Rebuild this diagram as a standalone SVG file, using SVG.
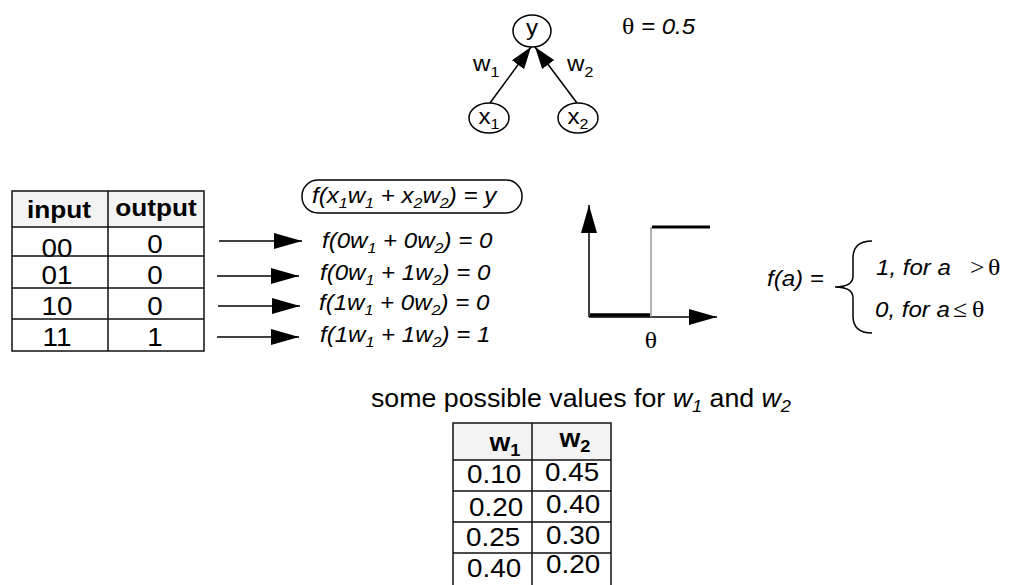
<svg xmlns="http://www.w3.org/2000/svg" width="1013" height="585" viewBox="0 0 1013 585">
<style>
.t{font-family:"Liberation Sans",Arial,sans-serif;fill:#000}
.i{font-style:italic}
.b{font-weight:bold}
.s{font-family:"Liberation Serif","Times New Roman",serif;font-style:normal}
.node{fill:#fff;stroke:#000;stroke-width:1.5}
.grid{fill:none;stroke:#111;stroke-width:1.5}
.hdr{fill:#f3f3f3;stroke:none}
.con{stroke:#000;stroke-width:1.5;fill:none}
.f22{font-size:22.5px}
.f24{font-size:24.5px}
.f26{font-size:26px}
.th{font-size:24px}
</style>
<defs>
<marker id="ah" viewBox="0 0 28 16" refX="28" refY="8" markerWidth="28" markerHeight="16" markerUnits="userSpaceOnUse" orient="auto"><path d="M0,0 L28,8 L0,16 z" fill="#000"/></marker>
<marker id="ah2" viewBox="0 0 22 15" refX="22" refY="7.5" markerWidth="22" markerHeight="15" markerUnits="userSpaceOnUse" orient="auto"><path d="M0,0 L22,7.5 L0,15 z" fill="#000"/></marker>
</defs>
<rect width="1013" height="585" fill="#fff"/>

<g id="connectors">
<line class="con" x1="490" y1="103" x2="531" y2="47" marker-end="url(#ah2)"/>
<line class="con" x1="577" y1="103" x2="535" y2="47" marker-end="url(#ah2)"/>
<line class="con" x1="219" y1="241" x2="302" y2="241" marker-end="url(#ah)"/>
<line class="con" x1="217" y1="276" x2="299" y2="276" marker-end="url(#ah)"/>
<line class="con" x1="218" y1="306" x2="300" y2="306" marker-end="url(#ah)"/>
<line class="con" x1="217" y1="337" x2="299" y2="337" marker-end="url(#ah)"/>
</g>

<g id="node-y">
<ellipse class="node" cx="532" cy="31" rx="19" ry="16"/>
<text class="t f22" text-anchor="middle" transform="translate(532,35) scale(1.07,1)">y</text>
</g>
<g id="node-x1">
<ellipse class="node" cx="489" cy="118" rx="20" ry="15"/>
<text class="t f22" text-anchor="middle" transform="translate(489,124) scale(1.07,1)">x<tspan font-size="15" dy="5">1</tspan></text>
</g>
<g id="node-x2">
<ellipse class="node" cx="578" cy="118" rx="20" ry="15"/>
<text class="t f22" text-anchor="middle" transform="translate(578,124) scale(1.07,1)">x<tspan font-size="15" dy="5">2</tspan></text>
</g>
<g id="weight-labels">
<text class="t f22" transform="translate(473,71) scale(1.07,1)">w<tspan font-size="15" dy="6">1</tspan></text>
<text class="t f22" transform="translate(567,71) scale(1.07,1)">w<tspan font-size="15" dy="6">2</tspan></text>
</g>
<g id="theta-value">
<text class="t f22" transform="translate(622,34) scale(1.07,1)"><tspan class="s th">θ</tspan><tspan class="i"> = 0.5</tspan></text>
</g>

<g id="truth-table">
<rect class="hdr" x="12" y="191" width="192" height="36"/>
<text class="t b f24" text-anchor="middle" transform="translate(59,218) scale(1.07,1)">input</text>
<text class="t b f24" text-anchor="middle" transform="translate(156,216) scale(1.07,1)">output</text>
<text class="t f26" text-anchor="middle" transform="translate(57,257) scale(1.07,1)">00</text>
<text class="t f26" text-anchor="middle" transform="translate(155,253) scale(1.07,1)">0</text>
<text class="t f26" text-anchor="middle" transform="translate(57,284) scale(1.07,1)">01</text>
<text class="t f26" text-anchor="middle" transform="translate(155,284) scale(1.07,1)">0</text>
<text class="t f26" text-anchor="middle" transform="translate(57,315) scale(1.07,1)">10</text>
<text class="t f26" text-anchor="middle" transform="translate(155,315) scale(1.07,1)">0</text>
<text class="t f26" text-anchor="middle" transform="translate(57,346) scale(1.07,1)">11</text>
<text class="t f26" text-anchor="middle" transform="translate(155,346) scale(1.07,1)">1</text>
<rect class="grid" x="12" y="191" width="192" height="160"/>
<path class="grid" d="M12 227H204M12 256H204M12 288H204M12 319H204M108 191V351"/>
</g>

<g id="formula-general">
<rect class="node" x="302" y="180" width="220" height="33" rx="16" ry="16"/>
<text class="t i f22" transform="translate(312,203) scale(1.07,1)">f(x<tspan font-size="15" dy="5">1</tspan><tspan dy="-5">w</tspan><tspan font-size="15" dy="5">1</tspan><tspan dy="-5"> + x</tspan><tspan font-size="15" dy="5">2</tspan><tspan dy="-5">w</tspan><tspan font-size="15" dy="5">2</tspan><tspan dy="-5">) = y</tspan></text>
</g>
<g id="formulas">
<text class="t i f22" transform="translate(322,248) scale(1.07,1)">f(0w<tspan font-size="15" dy="5">1</tspan><tspan dy="-5"> + 0w</tspan><tspan font-size="15" dy="5">2</tspan><tspan dy="-5">) = 0</tspan></text>
<text class="t i f22" transform="translate(320,280) scale(1.07,1)">f(0w<tspan font-size="15" dy="5">1</tspan><tspan dy="-5"> + 1w</tspan><tspan font-size="15" dy="5">2</tspan><tspan dy="-5">) = 0</tspan></text>
<text class="t i f22" transform="translate(319,310) scale(1.07,1)">f(1w<tspan font-size="15" dy="5">1</tspan><tspan dy="-5"> + 0w</tspan><tspan font-size="15" dy="5">2</tspan><tspan dy="-5">) = 0</tspan></text>
<text class="t i f22" transform="translate(320,342) scale(1.07,1)">f(1w<tspan font-size="15" dy="5">1</tspan><tspan dy="-5"> + 1w</tspan><tspan font-size="15" dy="5">2</tspan><tspan dy="-5">) = 1</tspan></text>
</g>

<g id="step-graph">
<line class="con" x1="589" y1="317" x2="589" y2="205" marker-end="url(#ah)"/>
<line class="con" x1="589" y1="317" x2="717" y2="317" marker-end="url(#ah)"/>
<line x1="590" y1="315" x2="650" y2="315" stroke="#000" stroke-width="3.5"/>
<line x1="651" y1="227" x2="651" y2="317" stroke="#999" stroke-width="1.5"/>
<line x1="652" y1="227" x2="710" y2="227" stroke="#000" stroke-width="3"/>
<text class="t s th" text-anchor="middle" transform="translate(651,348) scale(1.07,1)">θ</text>
</g>

<g id="activation">
<text class="t i f22" transform="translate(767,286) scale(1.07,1)">f(a) =</text>
<path class="con" d="M872 241Q853 241 853 258L853 276Q853 287 835 287Q853 287 853 298L853 316Q853 333 872 333"/>
<text class="t i f22" transform="translate(876,275) scale(1.07,1)">1, for a</text>
<text class="t s th" transform="translate(970,275) scale(1.07,1)">&gt;</text>
<text class="t s th" transform="translate(988,275) scale(1.07,1)">θ</text>
<text class="t i f22" transform="translate(875,317) scale(1.07,1)">0, for a</text>
<text class="t s th" transform="translate(953,317) scale(1.07,1)">≤</text>
<text class="t s th" transform="translate(972,317) scale(1.07,1)">θ</text>
</g>

<g id="caption">
<text class="t" font-size="25" transform="translate(371,407) scale(1.07,1)">some possible values for <tspan class="i">w</tspan><tspan class="i" font-size="17" dy="5">1</tspan><tspan dy="-5"> and </tspan><tspan class="i">w</tspan><tspan class="i" font-size="17" dy="5">2</tspan></text>
</g>

<g id="weights-table">
<rect class="hdr" x="453" y="423" width="158" height="37"/>
<text class="t b" font-size="25" text-anchor="middle" transform="translate(505,451) scale(1.07,1)">w<tspan font-size="17" dy="5">1</tspan></text>
<text class="t b" font-size="25" text-anchor="middle" transform="translate(575,447) scale(1.07,1)">w<tspan font-size="17" dy="5">2</tspan></text>
<text class="t f26" transform="translate(467,483) scale(1.07,1)">0.10</text>
<text class="t f26" transform="translate(545,481) scale(1.07,1)">0.45</text>
<text class="t f26" transform="translate(469,516) scale(1.07,1)">0.20</text>
<text class="t f26" transform="translate(546,513) scale(1.07,1)">0.40</text>
<text class="t f26" transform="translate(466,546) scale(1.07,1)">0.25</text>
<text class="t f26" transform="translate(546,544) scale(1.07,1)">0.30</text>
<text class="t f26" transform="translate(467,577) scale(1.07,1)">0.40</text>
<text class="t f26" transform="translate(546,573) scale(1.07,1)">0.20</text>
<rect class="grid" x="453" y="423" width="158" height="170"/>
<path class="grid" d="M453 460H611M453 491H611M453 522H611M453 553H611M532 423V593"/>
</g>
</svg>
